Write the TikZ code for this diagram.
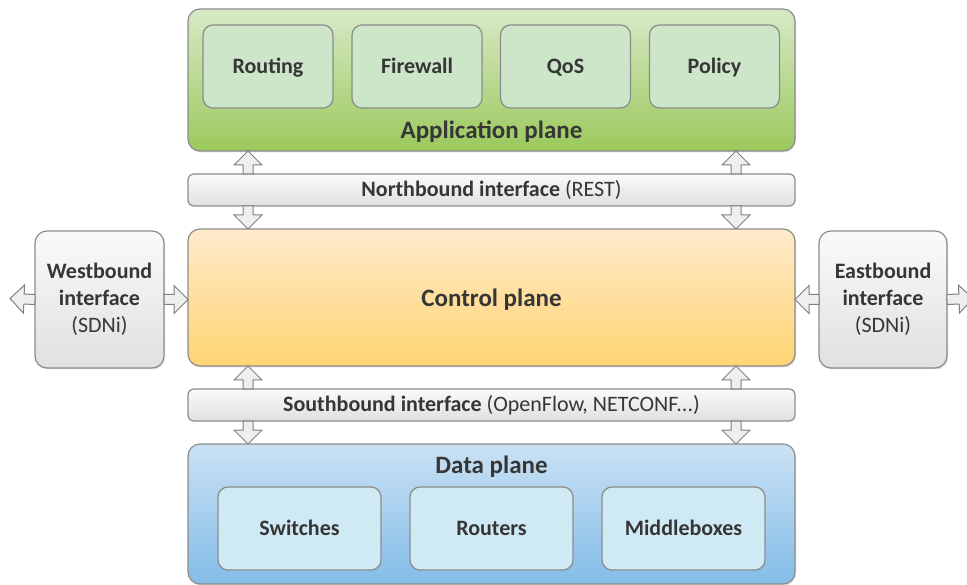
\documentclass[tikz,border=0pt]{standalone}
\usepackage{fontspec}
\setmainfont{Carlito}
\usepackage{xcolor}
\usepackage{tikz}
\usetikzlibrary{calc}
\usetikzlibrary{shadows}

\definecolor{txtgray}{HTML}{363636}
\definecolor{linegray}{HTML}{8C8C8C}
\definecolor{arrowgray}{HTML}{808080}
\definecolor{arrowfill}{HTML}{EFEFEF}
\definecolor{grayT}{HTML}{FAFAFA}
\definecolor{grayB}{HTML}{E0E0E0}
\definecolor{appT}{HTML}{D8E9C6}
\definecolor{appM}{HTML}{A9D073}
\definecolor{appB}{HTML}{9BC95C}
\definecolor{appin}{HTML}{CDE5C8}
\definecolor{ctlT}{HTML}{FFEACB}
\definecolor{ctlB}{HTML}{FFD472}
\definecolor{dataT}{HTML}{CAE1F4}
\definecolor{dataB}{HTML}{83BDE8}
\definecolor{datain}{HTML}{D0EAF5}

\newcommand{\lblfont}{\fontsize{22}{27}\selectfont\bfseries}
\newcommand{\planefont}{\fontsize{25}{30}\selectfont\bfseries}

\begin{document}
\begin{tikzpicture}[x=1pt,y=-1pt,
  box/.style={draw=linegray,line width=1.2pt,inner sep=0pt,outer sep=0pt,text=txtgray,align=center},
  plane/.style={box,rounded corners=12pt,minimum width=607pt,drop shadow={shadow xshift=1pt,shadow yshift=-1.5pt,opacity=.25}},
  inbox/.style={box,rounded corners=10pt,minimum height=83pt,text height=14pt,text depth=0pt,font=\lblfont},
  bar/.style={box,rounded corners=6pt,minimum width=607pt,minimum height=32pt,top color=grayT,bottom color=grayB,font=\lblfont},
  side/.style={box,rounded corners=12pt,minimum height=137pt,top color=grayT,bottom color=grayB,font=\lblfont,drop shadow={shadow xshift=1pt,shadow yshift=-1.5pt,opacity=.25}},
  blockarrow/.style={draw=arrowgray,line width=1pt,fill=arrowfill,line join=miter}]
\useasboundingbox (0,0) rectangle (967,585);
\clip (0,0) rectangle (967,585);

% application plane
\node[plane,minimum height=142pt,top color=appT,middle color=appM,bottom color=appB] (aplane) at (491.5,80) {};
\node[text=txtgray,font=\planefont] (aptext) at (491.5,132) {Application plane};
\foreach \n/\x/\t in {route/268/Routing, fw/417/Firewall, qos/565.5/QoS, pol/714.5/Policy}
  \node[inbox,minimum width=130pt,fill=appin] (\n) at (\x,66.5) {\t};

% interfaces and control plane
\node[bar] (nbar) at (491.5,190) {Northbound interface \textmd{(REST)}};
\node[plane,minimum height=137pt,top color=ctlT,bottom color=ctlB] (ctrl) at (491.5,297.5) {};
\node[text=txtgray,font=\planefont] (cttext) at (491.5,299.5) {Control plane};
\node[bar] (sbar) at (491.5,405) {Southbound interface \textmd{(OpenFlow, NETCONF...)}};
\node[side,minimum width=129pt] (west) at (99.5,299.5) {Westbound\\interface\\\textmd{(SDNi)}};
\node[side,minimum width=128pt] (east) at (883,299.5) {Eastbound\\interface\\\textmd{(SDNi)}};

% data plane
\node[plane,minimum height=140pt,top color=dataT,bottom color=dataB] (dplane) at (491.5,514) {};
\node[text=txtgray,font=\planefont] (dptext) at (491.5,467) {Data plane};
\foreach \n/\x/\t in {sw/299.5/Switches, rt/491.5/Routers, mb/683.5/Middleboxes}
  \node[inbox,minimum width=163pt,fill=datain] (\n) at (\x,528.5) {\t};

% block arrows
\coordinate (al) at (248,0);
\coordinate (ar) at (736,0);
\coordinate (wtip) at (10,298.5);
\coordinate (etip) at (973,298.5);
\foreach \s/\t in {nbar.north -| al/aplane.south -| al, nbar.south -| al/ctrl.north -| al,
                   sbar.north -| al/ctrl.south -| al, sbar.south -| al/dplane.north -| al,
                   nbar.north -| ar/aplane.south -| ar, nbar.south -| ar/ctrl.north -| ar,
                   sbar.north -| ar/ctrl.south -| ar, sbar.south -| ar/dplane.north -| ar,
                   west.west/wtip, west.east/west.east -| ctrl.west,
                   east.west/east.west -| ctrl.east, east.east/etip}
{
  \coordinate (s) at (\s);
  \coordinate (t) at (\t);
  \coordinate (h) at ($(t)!14pt!(s)$);
  \draw[blockarrow] ($(s)!5pt!90:(t)$) -- ($(h)!5pt!-90:(s)$) -- ($(h)!14pt!-90:(s)$) -- (t)
    -- ($(h)!14pt!90:(s)$) -- ($(h)!5pt!90:(s)$) -- ($(s)!5pt!-90:(t)$) -- cycle;
}
\end{tikzpicture}
\end{document}
